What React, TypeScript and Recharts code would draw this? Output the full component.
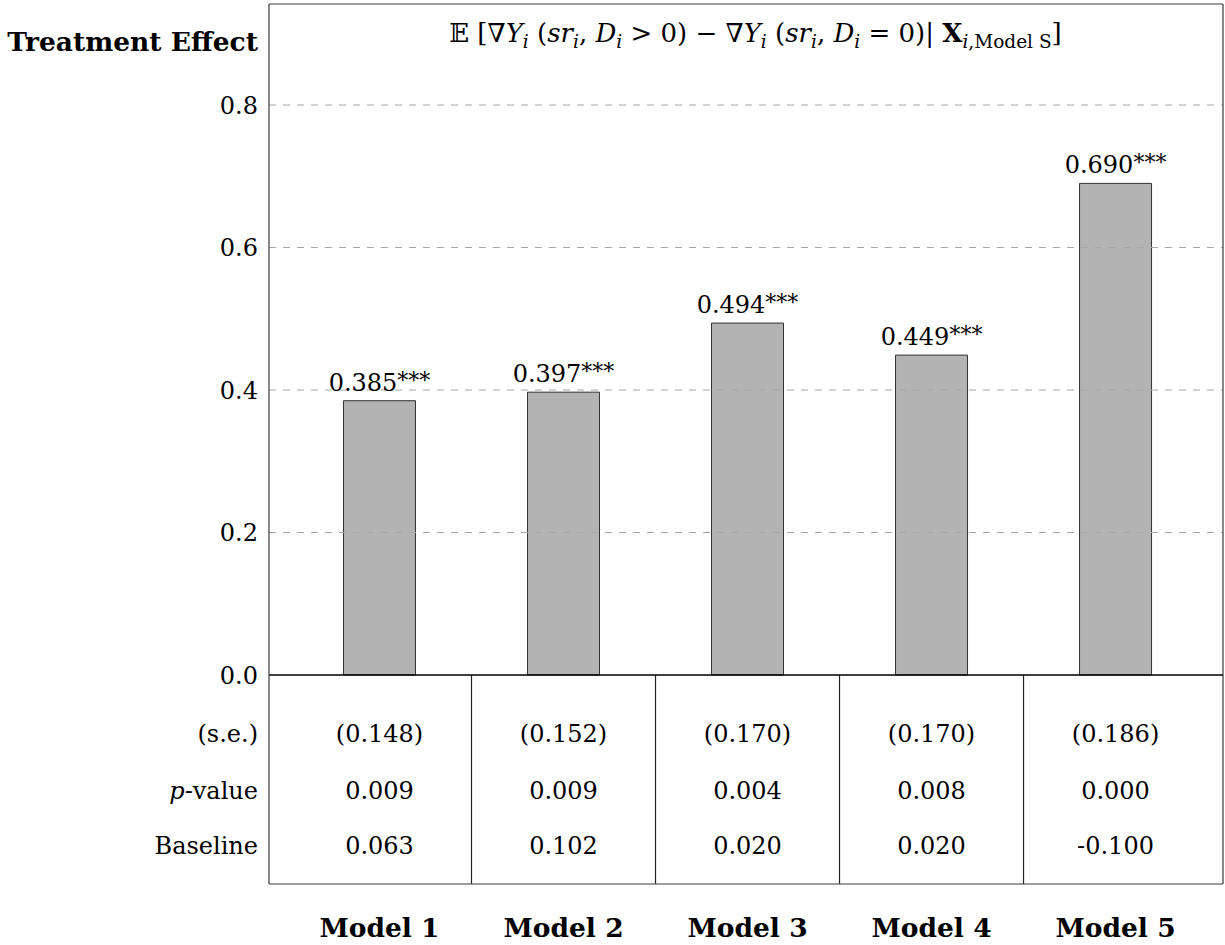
import React from 'react';
import { ComposedChart, Bar, XAxis, YAxis, ReferenceLine, Scatter } from 'recharts';

const MODELS = ['Model 1', 'Model 2', 'Model 3', 'Model 4', 'Model 5'];
const EFFECTS = [0.385, 0.397, 0.494, 0.449, 0.69];
const STARS = ['***', '***', '***', '***', '***'];
const STD_ERRORS = [0.148, 0.152, 0.17, 0.17, 0.186];
const P_VALUES = [0.009, 0.009, 0.004, 0.008, 0.0];
const BASELINES = [0.063, 0.102, 0.02, 0.02, -0.1];
const Y_TICKS = [0, 0.2, 0.4, 0.6, 0.8];
const GRID_VALUES = [0.2, 0.4, 0.6, 0.8];

// axis layout (the table rows sit below zero on the same y scale)
const Y_MIN = -0.2933;
const Y_MAX = 0.9418;
const X_MIN = 0.3995;
const X_MAX = 5.584;
const ROW_TITLE = 0.888;
const ROW_SE = -0.0814;
const ROW_P = -0.1614;
const ROW_BASE = -0.2386;

const FONT = '"DejaVu Serif", "DejaVu Sans", serif';
const FRAME = '#3a3a3a';

const barData = MODELS.map((name, i) => ({ x: i + 1, name, effect: EFFECTS[i] }));
const seData = STD_ERRORS.map((v, i) => ({ x: i + 1, y: ROW_SE, text: `(${v.toFixed(3)})` }));
const pData = P_VALUES.map((v, i) => ({ x: i + 1, y: ROW_P, text: v.toFixed(3) }));
const baseData = BASELINES.map((v, i) => ({ x: i + 1, y: ROW_BASE, text: v.toFixed(3) }));
const titleData = [{ x: 3, y: ROW_TITLE, text: '' }];

// [text, style]: n normal, i italic, b bold, s subscript italic, sn subscript normal
const TITLE_PARTS: [string, string][] = [
  ['𝔼 [∇', 'n'], ['Y', 'i'], ['i', 's'], [' (', 'n'], ['sr', 'i'], ['i', 's'], [', ', 'n'],
  ['D', 'i'], ['i', 's'], [' > 0) − ∇', 'n'], ['Y', 'i'], ['i', 's'], [' (', 'n'], ['sr', 'i'],
  ['i', 's'], [', ', 'n'], ['D', 'i'], ['i', 's'], [' = 0)| ', 'n'], ['X', 'b'], ['i', 's'],
  [',Model S', 'sn'], [']', 'n'],
];

const cellText = (p: any) => (
  <text x={p.cx} y={p.cy} dy={8.5} textAnchor="middle" fontFamily={FONT} fontSize={24} fill="#000">
    {p.payload.text}
  </text>
);

const titleShape = (p: any) => {
  let shift = 0;
  return (
    <text x={p.cx + 8} y={p.cy} dy={9} textAnchor="middle" fontFamily={FONT} fontSize={26} fill="#000" style={{ whiteSpace: 'pre' }}>
      {TITLE_PARTS.map(([t, s], k) => {
        const sub = s === 's' || s === 'sn';
        const target = sub ? 6 : 0;
        const dy = target - shift;
        shift = target;
        return (
          <tspan
            key={k}
            dy={dy}
            fontSize={sub ? 18.5 : 26}
            fontStyle={s === 'i' || s === 's' ? 'italic' : 'normal'}
            fontWeight={s === 'b' ? 'bold' : 'normal'}
          >
            {t}
          </tspan>
        );
      })}
    </text>
  );
};

const BarLabel = (props: any) => {
  const { x, y, width, index } = props;
  return (
    <text x={x + width / 2} y={y - 10} textAnchor="middle" fontFamily={FONT} fontSize={24} fill="#000">
      {EFFECTS[index].toFixed(3)}
      <tspan fontSize={22} dy={-3}>{STARS[index]}</tspan>
    </text>
  );
};

const YTick = ({ y, payload }: any) => {
  const v = payload.value;
  let content: React.ReactNode = Number(v).toFixed(1);
  let bold = false;
  if (v === ROW_TITLE) {
    content = 'Treatment Effect';
    bold = true;
  } else if (v === ROW_SE) content = '(s.e.)';
  else if (v === ROW_P) content = (<><tspan fontStyle="italic">p</tspan>-value</>);
  else if (v === ROW_BASE) content = 'Baseline';
  return (
    <text x={258} y={y} dy={bold ? 9 : 8.5} textAnchor="end" fontFamily={FONT} fontSize={bold ? 26.5 : 24} fontWeight={bold ? 'bold' : 'normal'} fill="#000">
      {content}
    </text>
  );
};

const XTick = ({ x, y, payload }: any) => (
  <text x={x} y={y + 53} textAnchor="middle" fontFamily={FONT} fontSize={26.5} fontWeight="bold" fill="#000">
    {MODELS[payload.value - 1]}
  </text>
);

export default function App() {
  return (
    <div style={{ position: 'absolute', left: 0, top: 0, background: '#fff' }}>
      <ComposedChart width={1225} height={945} data={barData} margin={{ top: 4, right: 2, bottom: 0, left: 0 }}>
        <XAxis
          type="number"
          dataKey="x"
          domain={[X_MIN, X_MAX]}
          allowDataOverflow
          ticks={[1, 2, 3, 4, 5]}
          interval={0}
          tickLine={false}
          tickSize={0}
          tickMargin={0}
          height={61}
          axisLine={{ stroke: FRAME, strokeWidth: 1.2 }}
          tick={<XTick />}
        />
        <YAxis
          type="number"
          domain={[Y_MIN, Y_MAX]}
          allowDataOverflow
          ticks={[ROW_BASE, ROW_P, ROW_SE, ...Y_TICKS, ROW_TITLE]}
          interval={0}
          width={269}
          tickLine={false}
          tickSize={0}
          axisLine={{ stroke: FRAME, strokeWidth: 1.2 }}
          tick={<YTick />}
        />
        {GRID_VALUES.map((v) => (
          <ReferenceLine key={v} y={v} stroke="#a6a6a6" strokeDasharray="7 7" strokeWidth={1} />
        ))}
        <ReferenceLine y={Y_MAX} stroke={FRAME} strokeWidth={1.2} />
        <ReferenceLine x={X_MAX} stroke={FRAME} strokeWidth={1.2} />
        {[1.5, 2.5, 3.5, 4.5].map((sx) => (
          <ReferenceLine
            key={sx}
            segment={[{ x: sx, y: Y_MIN }, { x: sx, y: 0 }]}
            stroke="#222"
            strokeWidth={1.2}
          />
        ))}
        <Bar
          dataKey="effect"
          barSize={72}
          fill="#b3b3b3"
          stroke="#333"
          strokeWidth={1}
          isAnimationActive={false}
          label={BarLabel}
        />
        <ReferenceLine y={0} stroke="#000" strokeWidth={1.4} />
        <Scatter data={seData} dataKey="y" shape={cellText} isAnimationActive={false} />
        <Scatter data={pData} dataKey="y" shape={cellText} isAnimationActive={false} />
        <Scatter data={baseData} dataKey="y" shape={cellText} isAnimationActive={false} />
        <Scatter data={titleData} dataKey="y" shape={titleShape} isAnimationActive={false} />
      </ComposedChart>
    </div>
  );
}
